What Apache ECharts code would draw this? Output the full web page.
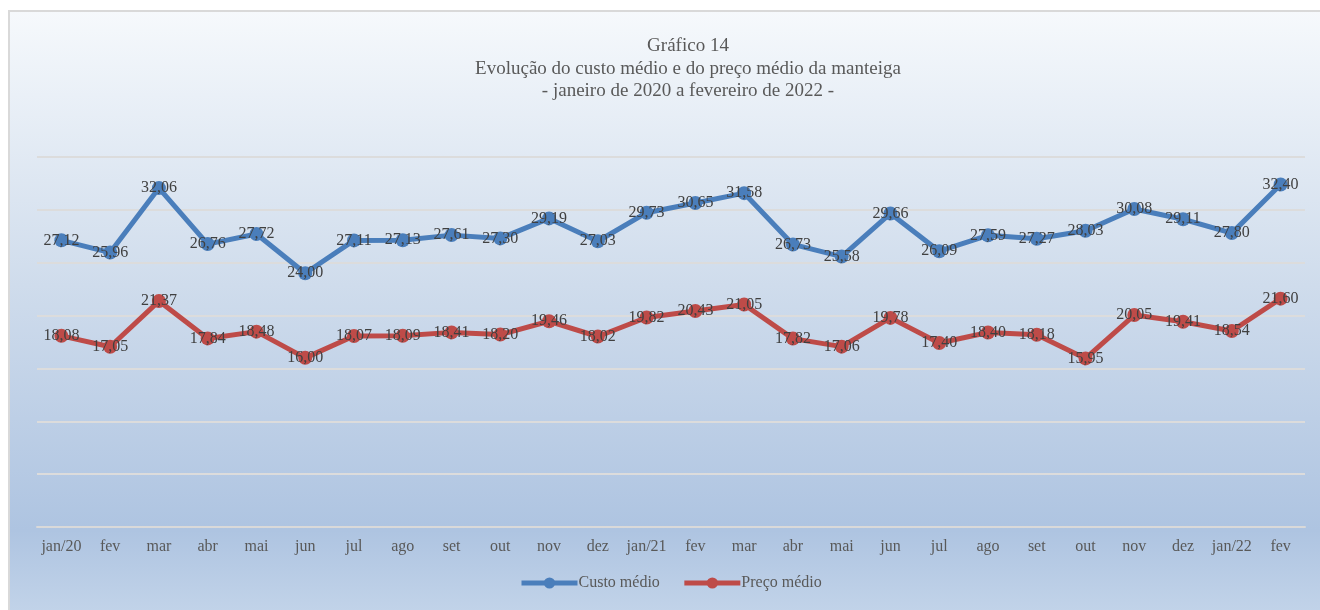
<!DOCTYPE html>
<html>
<head>
<meta charset="utf-8">
<script src="https://cdn.jsdelivr.net/npm/echarts@6/dist/echarts.min.js"></script>
<style>
html,body{margin:0;padding:0;background:#fff;}
#c{width:1320px;height:610px;}
</style>
</head>
<body>
<div id="c"></div>
<script>
const categories = ['jan/20','fev','mar','abr','mai','jun','jul','ago','set','out','nov','dez','jan/21','fev','mar','abr','mai','jun','jul','ago','set','out','nov','dez','jan/22','fev'];
const custoMedio = [27.12,25.96,32.06,26.76,27.72,24.00,27.11,27.13,27.61,27.30,29.19,27.03,29.73,30.65,31.58,26.73,25.58,29.66,26.09,27.59,27.27,28.03,30.08,29.11,27.80,32.40];
const precoMedio = [18.08,17.05,21.37,17.84,18.48,16.00,18.07,18.09,18.41,18.20,19.46,18.02,19.82,20.43,21.05,17.82,17.06,19.78,17.40,18.40,18.18,15.95,20.05,19.41,18.54,21.60];
const titleLines = ['Gráfico 14','Evolução do custo médio e do preço médio da manteiga','- janeiro de 2020 a fevereiro de 2022 -'];

const FONT = '"Liberation Serif", "DejaVu Serif", serif';
const chart = echarts.init(document.getElementById('c'));
const fmt = p => p.value.toFixed(2).replace('.', ',');
const mkSeries = (name, data, color) => ({
  name, type: 'line', data,
  symbol: 'circle', symbolSize: 14,
  lineStyle: {width: 5, color},
  itemStyle: {color},
  label: {show: true, position: 'inside', formatter: fmt, fontFamily: FONT, fontSize: 16, color: '#404040'},
  z: 3
});
chart.setOption({
  animation: false,
  graphic: [{
    type: 'rect', z: -10, silent: true,
    shape: {x: 9, y: 11, width: 1320, height: 610},
    style: {
      stroke: '#d9d9d9', lineWidth: 2,
      fill: new echarts.graphic.LinearGradient(0, 0, 0, 1, [
        {offset: 0, color: '#f6f9fc'},
        {offset: 0.45, color: '#cfdcec'},
        {offset: 0.85, color: '#aec4e1'},
        {offset: 1, color: '#c4d5ea'}
      ])
    }
  }],
  title: {
    text: titleLines.join('\n'),
    left: 683, top: 30, textAlign: 'center',
    textStyle: {fontFamily: FONT, fontSize: 19, fontWeight: 'normal', color: '#595959', lineHeight: 22.5}
  },
  legend: {
    left: 514, top: 570,
    itemWidth: 56, itemHeight: 14, itemGap: 22,
    lineStyle: {width: 5},
    textStyle: {fontFamily: FONT, fontSize: 16, color: '#595959', padding: [0,0,0,-4]},
    data: ['Custo médio', 'Preço médio']
  },
  grid: {left: 37, right: 15, top: 157, bottom: 83},
  xAxis: {
    type: 'category', data: categories, boundaryGap: true,
    axisLine: {show: true, lineStyle: {color: '#d9d9d9', width: 2}},
    axisTick: {show: false},
    axisLabel: {fontFamily: FONT, fontSize: 16, color: '#595959', margin: 12, interval: 0}
  },
  yAxis: {
    type: 'value', min: 0, max: 35, interval: 5,
    axisLabel: {show: false}, axisLine: {show: false}, axisTick: {show: false},
    splitLine: {lineStyle: {color: '#dcdcdc', width: 2}}
  },
  series: [
    mkSeries('Custo médio', custoMedio, '#4a7ebb'),
    mkSeries('Preço médio', precoMedio, '#be4b48')
  ]
});
</script>
</body>
</html>
